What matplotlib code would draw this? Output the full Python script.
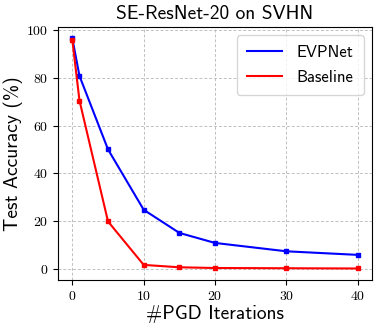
import os
import matplotlib
matplotlib.use("Agg")
import matplotlib.pyplot as plt
from matplotlib.font_manager import FontProperties

# Computer Modern fonts shipped with matplotlib
ttf_dir = os.path.join(matplotlib.get_data_path(), "fonts", "ttf")
sans = os.path.join(ttf_dir, "cmss10.ttf")
serif = os.path.join(ttf_dir, "cmr10.ttf")
plt.rcParams["axes.formatter.use_mathtext"] = True

iters = [0, 1, 5, 10, 15, 20, 30, 40]
evpnet = [96.5, 80.8, 50.0, 24.7, 15.0, 10.8, 7.3, 5.8]
baseline = [95.8, 70.5, 19.8, 1.6, 0.6, 0.3, 0.2, 0.1]

fig, ax = plt.subplots(figsize=(3.82, 3.29), dpi=100)
ax.plot(iters, evpnet, "b-", marker="s", ms=2.2, lw=1.5, label="EVPNet")
ax.plot(iters, baseline, "r-", marker="s", ms=2.2, lw=1.5, label="Baseline")

ax.set_xticks([0, 10, 20, 30, 40])
ax.set_yticks([0, 20, 40, 60, 80, 100])
for lab in ax.get_xticklabels() + ax.get_yticklabels():
    lab.set_fontproperties(FontProperties(fname=serif, size=10))
ax.grid(True, linestyle=(0, (3, 2)), color="#c0c0c0", lw=0.7)

ax.set_title("SE-ResNet-20 on SVHN", fontproperties=FontProperties(fname=sans, size=14))
ax.set_xlabel("#PGD Iterations", fontproperties=FontProperties(fname=sans, size=14), labelpad=2)
ax.set_ylabel("Test Accuracy (%)", fontproperties=FontProperties(fname=sans, size=14), labelpad=2)
leg = ax.legend(loc="upper right", prop=FontProperties(fname=sans, size=12),
                handlelength=2.1, handletextpad=0.9, borderaxespad=0.5,
                labelspacing=0.6, borderpad=0.6)
for h in leg.legend_handles:
    h.set_marker("")

fig.subplots_adjust(left=0.152, right=0.974, top=0.918, bottom=0.149)
fig.savefig("out.png")
